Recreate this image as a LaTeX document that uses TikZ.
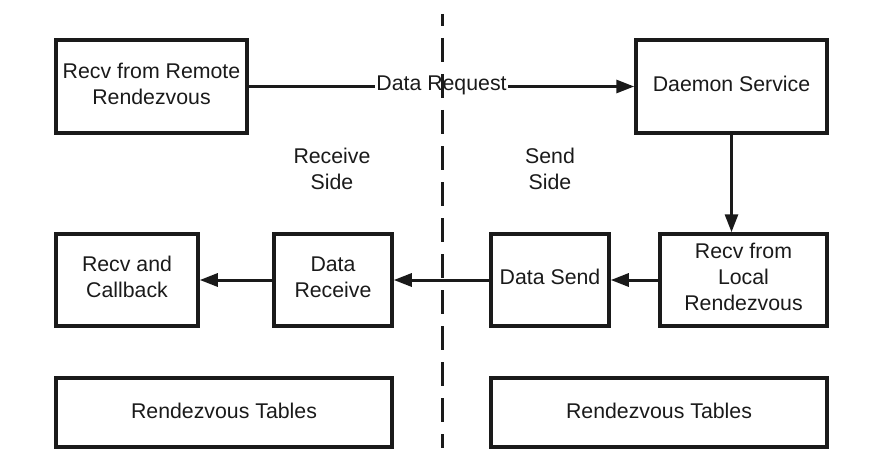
\documentclass[tikz,border=0pt]{standalone}
\usepackage{fontspec}
\setmainfont{Liberation Sans}
\usetikzlibrary{arrows.meta}
\definecolor{ink}{HTML}{1A1A1A}
\tikzset{
  box/.style={draw=ink, line width=3.5pt, rectangle, inner sep=0pt},
  txt/.style={text=ink, align=center, inner sep=0pt, font=\fontsize{21.3pt}{26pt}\selectfont},
  conn/.style={draw=ink, line width=3pt, -{Triangle[length=18pt,width=13pt]}},
  divider/.style={draw=ink, line width=3pt, dash pattern=on 24pt off 12pt, dash phase=12pt}
}
\begin{document}
\begin{tikzpicture}[x=1pt,y=-1pt]
\useasboundingbox (0,0) rectangle (888,468);
% boxes
\node[box, minimum width=191pt, minimum height=93pt] (remote) at (151.5,86.5) {};
\node[box, minimum width=191pt, minimum height=93pt] (daemon) at (731.5,86.5) {};
\node[box, minimum width=142pt, minimum height=92pt] (callback) at (127,280) {};
\node[box, minimum width=118pt, minimum height=92pt] (drecv) at (333,280) {};
\node[box, minimum width=118pt, minimum height=92pt] (dsend) at (550,280) {};
\node[box, minimum width=167pt, minimum height=92pt] (local) at (743.5,280) {};
\node[box, minimum width=336pt, minimum height=69pt] (tabl) at (224,412.5) {};
\node[box, minimum width=336pt, minimum height=69pt] (tabr) at (659,412.5) {};
% texts
\node[txt] (tremote) at ([yshift=3pt]remote.center) {Recv from Remote\\Rendezvous};
\node[txt] (tdaemon) at ([yshift=3pt]daemon.center) {Daemon Service};
\node[txt] (tcallback) at ([yshift=3pt]callback.center) {Recv and\\Callback};
\node[txt] (tdrecv) at ([yshift=3pt]drecv.center) {Data\\Receive};
\node[txt] (tdsend) at ([yshift=3pt]dsend.center) {Data Send};
\node[txt] (tlocal) at ([yshift=3pt]local.center) {Recv from\\Local\\Rendezvous};
\node[txt] (ttabl) at ([yshift=2pt]tabl.center) {Rendezvous Tables};
\node[txt] (ttabr) at ([yshift=2pt]tabr.center) {Rendezvous Tables};
\node[txt] (recvside) at (332,169) {Receive\\Side};
\node[txt] (sendside) at (550,169) {Send\\Side};
% connectors
\draw[conn] (remote.east) -- node[txt, fill=white, inner xsep=1pt, inner ysep=2pt, yshift=1pt] (dreq) {Data Request} (daemon.west);
\draw[conn] (daemon.south) -- (daemon.south |- local.north);
\draw[conn] (local.west) -- (dsend.east);
\draw[conn] (dsend.west) -- (drecv.east);
\draw[conn] (drecv.west) -- (callback.east);
% divider
\coordinate (dtop) at (442,14);
\coordinate (dbot) at (442,448);
\draw[divider] (dtop) -- (dbot);
\end{tikzpicture}
\end{document}
